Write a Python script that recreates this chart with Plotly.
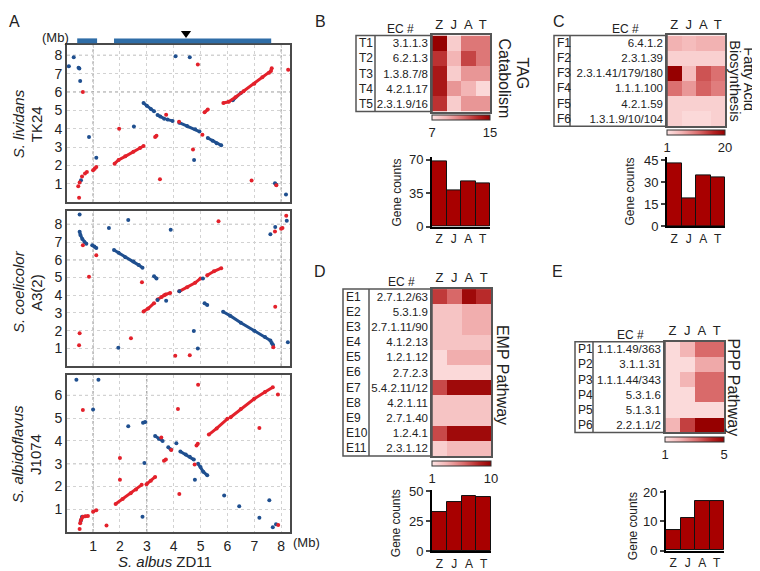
import plotly.graph_objects as go

W, H = 760, 571
def px(x): return x / W
def py(y): return 1 - y / H

FONT = "Liberation Sans, Arial, sans-serif"
RED, BLUE = "#e3212b", "#1f4f8f"

# ---------------- Panel A data (x: S. albus ZD11, Mb) ----------------
core_start = [0.41, 1.78]
core_end = [1.15, 7.63]
marker_pos = 4.46

# S. lividans TK24
liv_red_x = [0.48, 0.45, 0.5, 0.59, 0.7, 0.77, 0.62, 1.97, 3.49, 3.72, 4.2, 4.72, 4.9, 5.07, 6.9, 7.82, 8.26]
liv_red_y = [0.25, 0.87, 1.08, 1.4, 1.57, 1.65, 6.0, 4.0, 1.25, 4.77, 4.38, 2.87, 7.5, 3.68, 1.18, 0.92, 7.21]
liv_red_runs_x = [[1.0, 1.06, 1.12], [1.8, 1.95, 2.2, 2.5, 2.75, 2.88], [3.31, 3.36], [5.15, 5.27],
                  [5.85, 6.05, 6.3, 6.6, 7.0, 7.3, 7.55, 7.62, 7.65]]
liv_red_runs_y = [[1.74, 1.83, 1.92], [2.1, 2.3, 2.5, 2.75, 2.95, 3.06], [3.55, 3.62], [4.9, 5.05],
                  [5.4, 5.47, 5.72, 6.05, 6.45, 6.8, 7.05, 7.15, 7.3]]
liv_blue_x = [0.1, 0.28, 0.46, 0.49, 0.52, 0.85, 1.12, 0.55, 2.52, 4.07, 4.6, 4.76, 8.18]
liv_blue_y = [7.4, 7.9, 7.33, 7.28, 6.6, 3.55, 2.43, 1.2, 4.12, 7.95, 7.9, 2.3, 0.42]
liv_blue_runs_x = [[2.88, 3.0, 3.15, 3.27], [3.4, 3.5, 3.65], [3.77, 3.96], [4.21, 4.5, 4.8, 4.96],
                   [5.27, 5.45, 5.6, 5.77], [6.2, 6.5], [7.77, 7.82]]
liv_blue_runs_y = [[5.4, 5.25, 5.08, 4.95], [4.75, 4.67, 4.55], [4.5, 4.43], [4.33, 4.15, 3.97, 3.85],
                   [3.5, 3.35, 3.22, 3.1], [5.55, 5.95], [1.04, 0.95]]

# S. coelicolor A3(2)
coe_red_x = [0.5, 0.48, 0.62, 0.85, 1.12, 2.41, 2.82, 4.06, 4.6, 5.67, 7.78, 7.71, 7.77, 8.0, 8.05, 8.19]
coe_red_y = [1.85, 1.18, 6.82, 5.04, 6.25, 1.58, 4.73, 0.58, 0.62, 8.18, 3.35, 1.07, 7.6, 7.75, 7.8, 8.49]
coe_red_runs_x = [[2.88, 3.05, 3.27], [3.4, 3.55, 3.65], [3.7, 3.87], [4.21, 4.5, 4.8, 5.0], [5.25, 5.5, 5.77]]
coe_red_runs_y = [[3.09, 3.25, 3.55], [3.76, 3.9, 4.0], [4.04, 4.13], [4.22, 4.45, 4.7, 4.95], [5.13, 5.35, 5.53]]
coe_blue_x = [0.5, 1.59, 2.31, 1.94, 3.4, 3.72, 3.89, 4.21, 5.09, 4.75, 4.9, 7.6, 7.78, 8.21, 8.25]
coe_blue_y = [8.56, 7.8, 8.25, 1.04, 3.73, 3.69, 7.69, 4.22, 4.95, 1.98, 1.0, 7.44, 7.85, 8.2, 1.35]
coe_blue_runs_x = [[0.5, 0.53, 0.6, 0.68, 0.75], [0.97, 1.05, 1.12], [1.78, 1.95, 2.2, 2.5, 2.7, 2.84],
                   [3.27, 3.36], [5.15, 5.25], [5.84, 6.1, 6.5, 7.0, 7.4, 7.6, 7.65, 7.7]]
coe_blue_runs_y = [[7.58, 7.4, 7.18, 7.0, 6.9], [6.82, 6.75, 6.67], [6.55, 6.4, 6.15, 5.9, 5.7, 5.55],
                   [5.07, 4.95], [3.55, 3.45], [3.07, 2.85, 2.45, 2.0, 1.65, 1.45, 1.3, 1.2]]

# S. albidoflavus J1074
alb_red_x = [0.5, 0.62, 1.5, 2.0, 2.0, 3.54, 3.91, 4.16, 4.21, 4.78, 7.19, 7.88, 7.89, 4.91]
alb_red_y = [0.13, 5.36, 0.28, 3.25, 2.29, 4.15, 3.6, 5.4, 1.67, 2.96, 4.57, 6.04, 0.31, 6.47]
alb_red_runs_x = [[0.52, 0.56, 0.62, 0.71, 0.81], [1.0, 1.12], [1.84, 2.1, 2.4, 2.6, 2.81],
                  [2.99, 3.15, 3.31], [3.64, 3.71], [4.85, 4.9], [5.31, 5.6, 6.0],
                  [6.12, 6.5, 7.0, 7.4, 7.69]]
alb_red_runs_y = [[0.38, 0.55, 0.67, 0.69, 0.7], [0.89, 0.96], [1.23, 1.45, 1.7, 1.87, 2.07],
                  [2.1, 2.25, 2.42], [3.13, 3.18], [3.8, 3.88], [4.28, 4.55, 4.97],
                  [5.04, 5.4, 5.85, 6.15, 6.36]]
alb_blue_x = [0.38, 1.2, 1.0, 2.31, 2.84, 2.91, 4.1, 4.79, 5.88, 6.44, 7.19, 7.56, 7.69, 7.81]
alb_blue_y = [6.69, 6.69, 5.38, 4.64, 0.67, 3.03, 3.9, 2.29, 1.6, 1.13, 0.63, 1.39, 0.21, 0.34]
alb_blue_runs_x = [[0.54, 0.59], [2.86, 2.94], [3.31, 3.45, 3.59], [3.8, 3.9], [4.25, 4.45, 4.6, 4.75],
                   [4.91, 5.0, 5.1, 5.25]]
alb_blue_runs_y = [[0.48, 0.67], [4.8, 4.83], [4.22, 4.1, 4.0], [3.72, 3.62], [3.54, 3.4, 3.3, 3.18],
                   [3.0, 2.85, 2.65, 2.49]]

dot_xticks = [1, 2, 3, 4, 5, 6, 7, 8]
liv_yticks = [1, 2, 3, 4, 5, 6, 7, 8]
coe_yticks = [1, 2, 3, 4, 5, 6, 7, 8]
alb_yticks = [1, 2, 3, 4, 5, 6]
liv_guides_x, liv_guides_y = [1, 8], [6, 8]
coe_guides_x, coe_guides_y = [1, 8], [6, 8]
alb_guides_x, alb_guides_y = [1, 3], [3, 6]

# ---------------- Heatmap / bar data ----------------
genomes = ["Z", "J", "A", "T"]

tag_ids = ["T1", "T2", "T3", "T4", "T5"]
tag_ec = ["3.1.1.3", "6.2.1.3", "1.3.8.7/8", "4.2.1.17", "2.3.1.9/16"]
tag_z = [[15, 8, 11, 11], [13, 9, 12.5, 11], [14, 8, 10, 10], [14, 10, 9, 7.5], [13, 8, 10, 10]]
tag_counts = [68, 38, 47, 45]

fa_ids = ["F1", "F2", "F3", "F4", "F5", "F6"]
fa_ec = ["6.4.1.2", "2.3.1.39", "2.3.1.41/179/180", "1.1.1.100", "4.2.1.59", "1.3.1.9/10/104"]
fa_z = [[6, 5, 6, 6], [3, 3, 3, 3], [20, 5, 13, 11], [11, 8, 12, 10], [3, 3, 3, 3], [3, 2, 2, 3]]
fa_counts = [43, 19, 35, 33]

emp_ids = ["E1", "E2", "E3", "E4", "E5", "E6", "E7", "E8", "E9", "E10", "E11"]
emp_ec = ["2.7.1.2/63", "5.3.1.9", "2.7.1.11/90", "4.1.2.13", "1.2.1.12", "2.7.2.3",
          "5.4.2.11/12", "4.2.1.11", "2.7.1.40", "1.2.4.1", "2.3.1.12"]
emp_z = [[7.5, 6, 9.5, 8], [2.5, 2.5, 3.5, 3.5], [2.5, 2.5, 3.5, 3.5], [2.5, 2.5, 2.5, 2.5],
         [1.5, 3.5, 3.5, 3.5], [1.5, 1.5, 1.5, 1.5], [7, 9.5, 9.5, 9.5], [2.5, 2.5, 2.5, 2.5],
         [2.5, 2.5, 2.5, 2.5], [7, 9.5, 9.5, 9.5], [2, 3, 3, 3]]
emp_counts = [33, 41, 46, 45]

ppp_ids = ["P1", "P2", "P3", "P4", "P5", "P6"]
ppp_ec = ["1.1.1.49/363", "3.1.1.31", "1.1.1.44/343", "5.3.1.6", "5.1.3.1", "2.2.1.1/2"]
ppp_z = [[1.2, 2, 3.2, 3.2], [1.2, 1.2, 2.2, 2.2], [1.2, 2, 3.2, 3.2], [1.2, 1.2, 3.2, 3.2],
         [1.2, 1.2, 1.2, 1.2], [2, 3.8, 5, 5]]
ppp_counts = [7, 11, 17, 17]

CS = [[0, "#fde3e3"], [0.25, "#f3b5b5"], [0.55, "#d96a6a"], [0.8, "#b52424"], [1, "#960000"]]

fig = go.Figure()
layout = dict(width=W, height=H, margin=dict(l=0, r=0, t=0, b=0), showlegend=False,
              paper_bgcolor="white", plot_bgcolor="white",
              font=dict(family=FONT, color="#222", size=13))
shapes, annos = [], []

# ---------------- dot plots ----------------
def add_dots(n, rx, ry, rrx, rry, bx, by, brx, bry):
    xa, ya = ("x" if n == 1 else f"x{n}"), ("y" if n == 1 else f"y{n}")
    for runs_x, runs_y, col in ((brx, bry, BLUE), (rrx, rry, RED)):
        X, Y = [], []
        for a, b in zip(runs_x, runs_y):
            X += a + [None]
            Y += b + [None]
        fig.add_trace(go.Scatter(x=X, y=Y, mode="lines+markers", line=dict(color=col, width=3),
                                 marker=dict(size=4, color=col), xaxis=xa, yaxis=ya, hoverinfo="skip"))
    fig.add_trace(go.Scatter(x=bx, y=by, mode="markers", marker=dict(size=4, color=BLUE),
                             xaxis=xa, yaxis=ya, hoverinfo="skip"))
    fig.add_trace(go.Scatter(x=rx, y=ry, mode="markers", marker=dict(size=4, color=RED),
                             xaxis=xa, yaxis=ya, hoverinfo="skip"))

add_dots(1, liv_red_x, liv_red_y, liv_red_runs_x, liv_red_runs_y, liv_blue_x, liv_blue_y, liv_blue_runs_x, liv_blue_runs_y)
add_dots(2, coe_red_x, coe_red_y, coe_red_runs_x, coe_red_runs_y, coe_blue_x, coe_blue_y, coe_blue_runs_x, coe_blue_runs_y)
add_dots(3, alb_red_x, alb_red_y, alb_red_runs_x, alb_red_runs_y, alb_blue_x, alb_blue_y, alb_blue_runs_x, alb_blue_runs_y)

dot_specs = [(1, 32, 193, 8.55, liv_yticks, liv_guides_x, liv_guides_y),
             (2, 202, 361, 8.75, coe_yticks, coe_guides_x, coe_guides_y),
             (3, 370, 531, 6.9, alb_yticks, alb_guides_x, alb_guides_y)]
for n, top, bot, ymax, yt, gx, gy in dot_specs:
    k = "" if n == 1 else str(n)
    common = dict(showgrid=True, gridcolor="#d2d2d2", griddash="dot", gridwidth=1,
                  showline=True, mirror=True, linecolor="#4a4a4a", linewidth=2,
                  zeroline=False, ticks="", tickfont=dict(size=14, color="#222"))
    layout["xaxis" + k] = dict(domain=[px(59), px(282)], range=[0.03, 8.33], anchor="y" + k,
                               tickvals=dot_xticks, showticklabels=(n == 3), **common)
    layout["yaxis" + k] = dict(domain=[py(bot), py(top)], range=[0, ymax], anchor="x" + k,
                               tickvals=yt, **common)
    for g in gx:
        shapes.append(dict(type="line", xref="x" + k, yref="y" + k, x0=g, x1=g, y0=0, y1=ymax,
                           line=dict(color="#8a8a8a", width=1, dash="dot"), layer="below"))
    for g in gy:
        shapes.append(dict(type="line", xref="x" + k, yref="y" + k, x0=0.03, x1=8.33, y0=g, y1=g,
                           line=dict(color="#8a8a8a", width=1, dash="dot"), layer="below"))

# core region bars and marker above top plot
for s, e in zip(core_start, core_end):
    shapes.append(dict(type="rect", xref="x", yref="paper", x0=s, x1=e, y0=py(30), y1=py(25),
                       fillcolor="#2f6da7", line=dict(width=0)))
shapes.append(dict(type="path", xref="x", yref="paper",
                   path=f"M {marker_pos-0.19},{py(17.5)} L {marker_pos+0.19},{py(17.5)} L {marker_pos},{py(24.5)} Z",
                   fillcolor="black", line=dict(width=0)))

def ann(x, y, text, size=13, angle=0, xanchor="center", color="#222"):
    annos.append(dict(x=px(x), y=py(y), xref="paper", yref="paper", text=text, showarrow=False,
                      textangle=angle, xanchor=xanchor, yanchor="middle",
                      font=dict(size=size, family=FONT, color=color)))

ann(47, 24, "(Mb)", 13)
ann(298, 542, "(Mb)", 13)
ann(157, 561, "<i>S. albus</i> ZD11", 15)
for ylab1, ylab2, yc in (("<i>S. lividans</i>", "TK24", 113), ("<i>S. coelicolor</i>", "A3(2)", 285),
                         ("<i>S. albidoflavus</i>", "J1074", 451)):
    ann(10, yc, ylab1, 15, -90)
    ann(28, yc, ylab2, 15, -90)

for t, x, y in (("A", 6, 8), ("B", 312, 8), ("C", 551, 8), ("D", 312, 264), ("E", 549, 264)):
    ann(x, y, t, 16)

# ---------------- heatmaps + bars ----------------
panels = [
    dict(ids=tag_ids, ec=tag_ec, z=tag_z, cnt=tag_counts, zr=(7, 15), hx=(424, 482), hy=(22, 100),
         tx=348, dv=367, hdr=(392, 15), bx=(424, 482), by=(147, 218), brange=72.5, btick=[0, 35, 70],
         gc=(389, 183), cby=104),
    dict(ids=fa_ids, ec=fa_ec, z=fa_z, cnt=fa_counts, zr=(1, 20), hx=(659, 717), hy=(22, 115),
         tx=546, dv=562, hdr=(617, 15), bx=(659, 717), by=(147, 217.5), brange=47, btick=[0, 15, 30, 45],
         gc=(622, 182), cby=119),
    dict(ids=emp_ids, ec=emp_ec, z=emp_z, cnt=emp_counts, zr=(1, 10), hx=(424, 483), hy=(282, 453),
         tx=335, dv=361, hdr=(393, 275), bx=(424, 483), by=(488, 551), brange=51, btick=[0, 25, 50],
         gc=(388, 522), cby=458),
    dict(ids=ppp_ids, ec=ppp_ec, z=ppp_z, cnt=ppp_counts, zr=(1, 5), hx=(657, 716), hy=(336, 429),
         tx=567, dv=585, hdr=(622, 329), bx=(658, 716), by=(488, 550), brange=20.7, btick=[0, 10, 20],
         gc=(625, 525), cby=434),
]

n = 4
for p in panels:
    kh, kb = str(n), str(n + 1)
    fig.add_trace(go.Heatmap(z=p["z"], x=genomes, y=p["ec"], xaxis="x" + kh, yaxis="y" + kh,
                             zmin=p["zr"][0], zmax=p["zr"][1], colorscale=CS, hoverinfo="skip",
                             colorbar=dict(orientation="h", x=px((p["hx"][0] + p["hx"][1]) / 2),
                                           xanchor="center", y=py(p["cby"]), yanchor="top",
                                           len=p["hx"][1] - p["hx"][0], lenmode="pixels",
                                           thickness=5, thicknessmode="pixels", outlinewidth=1,
                                           outlinecolor="#333", tickvals=list(p["zr"]), ticks="",
                                           tickfont=dict(size=13, color="#222"), xpad=0, ypad=0)))
    layout["xaxis" + kh] = dict(domain=[px(p["hx"][0]), px(p["hx"][1])], anchor="y" + kh, side="top",
                                type="category", tickmode="array", tickvals=genomes, ticktext=genomes,
                                ticks="", showline=True, mirror=True, linecolor="#555",
                                linewidth=1.5, showgrid=False, zeroline=False,
                                tickfont=dict(size=13, color="#222"))
    layout["yaxis" + kh] = dict(domain=[py(p["hy"][1]), py(p["hy"][0])], anchor="x" + kh,
                                type="category", tickmode="array", tickvals=p["ec"], ticktext=p["ec"],
                                autorange="reversed", ticks="", showline=True,
                                mirror=True, linecolor="#555", linewidth=1.5, showgrid=False,
                                zeroline=False, tickfont=dict(size=11.5, color="#222"))
    # table frame
    shapes.append(dict(type="rect", xref="paper", yref="paper", x0=px(p["tx"]), x1=px(p["hx"][0]),
                       y0=py(p["hy"][1]), y1=py(p["hy"][0]), line=dict(color="#555", width=1.5)))
    shapes.append(dict(type="line", xref="paper", yref="paper", x0=px(p["dv"]), x1=px(p["dv"]),
                       y0=py(p["hy"][1]), y1=py(p["hy"][0]), line=dict(color="#555", width=1.5)))
    rh = (p["hy"][1] - p["hy"][0]) / len(p["ids"])
    for i, rid in enumerate(p["ids"]):
        ann(p["tx"] + 1, p["hy"][0] + (i + 0.5) * rh, rid, 12, xanchor="left")
    ann(p["hdr"][0], p["hdr"][1], "EC #", 12)

    # bars
    fig.add_trace(go.Bar(x=genomes, y=p["cnt"], xaxis="x" + kb, yaxis="y" + kb,
                         marker=dict(color="#a80000", line=dict(color="#111", width=1)),
                         hoverinfo="skip"))
    layout["xaxis" + kb] = dict(domain=[px(p["bx"][0]), px(p["bx"][1])], anchor="y" + kb,
                                type="category", tickmode="array", tickvals=genomes, ticktext=genomes,
                                showline=True, linecolor="black", linewidth=2,
                                ticks="", showgrid=False, tickfont=dict(size=12, color="#222"))
    layout["yaxis" + kb] = dict(domain=[py(p["by"][1]), py(p["by"][0])], anchor="x" + kb,
                                range=[0, p["brange"]], tickvals=p["btick"], showline=True,
                                linecolor="black", linewidth=2, ticks="outside", ticklen=4,
                                tickwidth=2, showgrid=False, zeroline=False,
                                tickfont=dict(size=13, color="#222"))
    ann(p["gc"][0], p["gc"][1], "Gene counts", 12, -90)
    n += 2

layout["bargap"] = 0

# pathway titles (rotated)
ann(514, 61, "TAG", 16, 90)
ann(497, 66, "Catabolism", 16, 90)
ann(741, 67, "Fatty Acid", 14.5, 90)
ann(727, 68, "Biosynthesis", 14.5, 90)
ann(494, 370, "EMP Pathway", 16, 90)
ann(725, 383, "PPP Pathway", 16, 90)

layout["shapes"] = shapes
layout["annotations"] = annos
fig.update_layout(**layout)
fig.write_html("out.html")
